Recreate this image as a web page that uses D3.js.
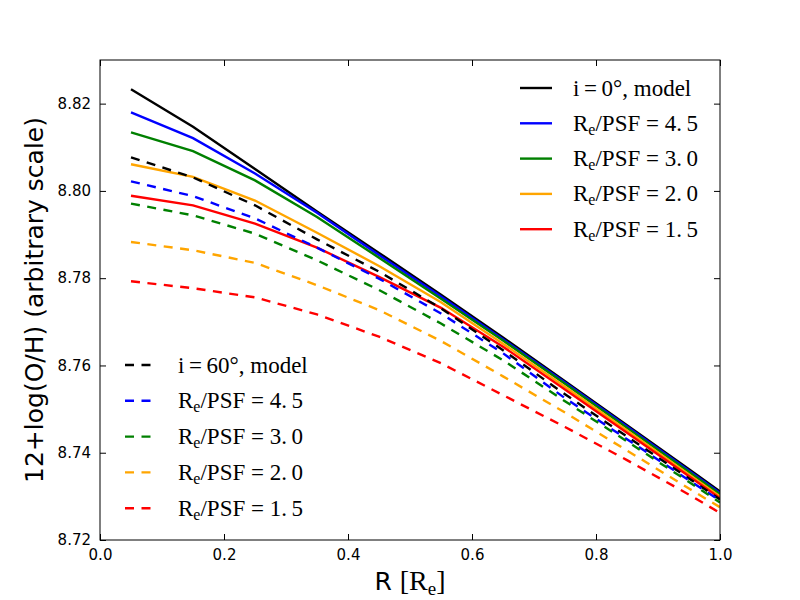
<!DOCTYPE html>
<html>
<head>
<meta charset="utf-8">
<script src="https://cdn.jsdelivr.net/npm/d3@7"></script>
<style>
  body { margin: 0; background: #fff; }
  .tick text { font-family: "DejaVu Sans", sans-serif; font-size: 15px; fill: #000; }
  .tick line { stroke: #000; stroke-width: 1; }
  .math { font-family: "Liberation Serif", "DejaVu Serif", serif; }
</style>
</head>
<body>
<svg id="chart" width="800" height="600"></svg>
<script>
// radius grid in units of R_e
const radius = [0.05, 0.15, 0.25, 0.35, 0.45, 0.55, 0.65, 0.75, 0.85, 0.95, 1.0];

// face-on (i = 0 deg), solid lines
const faceModel = [8.8233, 8.8147, 8.8050, 8.7953, 8.7858, 8.7762, 8.7664, 8.7564, 8.7463, 8.7362, 8.7311];
const facePsf45 = [8.8180, 8.8121, 8.8040, 8.7950, 8.7853, 8.7758, 8.7660, 8.7561, 8.7460, 8.7359, 8.7308];
const facePsf30 = [8.8134, 8.8091, 8.8024, 8.7940, 8.7847, 8.7753, 8.7657, 8.7558, 8.7457, 8.7356, 8.7305];
const facePsf20 = [8.8061, 8.8032, 8.7978, 8.7904, 8.7828, 8.7745, 8.7650, 8.7551, 8.7451, 8.7350, 8.7300];
const facePsf15 = [8.7989, 8.7967, 8.7925, 8.7870, 8.7803, 8.7732, 8.7643, 8.7545, 8.7446, 8.7346, 8.7296];

// inclined (i = 60 deg), dashed lines
const inclModel = [8.8077, 8.8031, 8.7967, 8.7889, 8.7815, 8.7731, 8.7635, 8.7534, 8.7437, 8.7341, 8.7293];
const inclPsf45 = [8.8022, 8.7988, 8.7937, 8.7870, 8.7799, 8.7719, 8.7628, 8.7525, 8.7431, 8.7337, 8.7290];
const inclPsf30 = [8.7971, 8.7944, 8.7902, 8.7841, 8.7773, 8.7696, 8.7612, 8.7518, 8.7426, 8.7333, 8.7286];
const inclPsf20 = [8.7883, 8.7864, 8.7835, 8.7784, 8.7727, 8.7656, 8.7575, 8.7492, 8.7405, 8.7318, 8.7275];
const inclPsf15 = [8.7793, 8.7777, 8.7756, 8.7717, 8.7666, 8.7605, 8.7532, 8.7459, 8.7383, 8.7304, 8.7262];

const colors = ["#000000", "#0000ff", "#008000", "#ffa500", "#ff0000"];
const psfLabels = [null, "4.5", "3.0", "2.0", "1.5"];

const xTicks = [0.0, 0.2, 0.4, 0.6, 0.8, 1.0];
const yTicks = [8.72, 8.74, 8.76, 8.78, 8.80, 8.82];

const faceSeries = [faceModel, facePsf45, facePsf30, facePsf20, facePsf15];
const inclSeries = [inclModel, inclPsf45, inclPsf30, inclPsf20, inclPsf15];

// Set up the plot area
const margin = { top: 60, right: 80, bottom: 60, left: 100 };
const width = 800 - margin.left - margin.right;
const height = 600 - margin.top - margin.bottom;

const svg = d3.select("#chart");
svg.append("rect").attr("width", 800).attr("height", 600).attr("fill", "#fff");

const g = svg.append("g")
  .attr("transform", `translate(${margin.left},${margin.top})`);

const xScale = d3.scaleLinear().domain([0, 1]).range([0, width]);
const yScale = d3.scaleLinear().domain([8.72, 8.83]).range([height, 0]);

g.append("clipPath").attr("id", "clip")
  .append("rect").attr("width", width).attr("height", height);

const line = d3.line()
  .x(d => xScale(d[0]))
  .y(d => yScale(d[1]));

const lines = g.append("g").attr("clip-path", "url(#clip)");

const dash = "9,7.5";
const lw = 2.4;

faceSeries.forEach((s, i) => {
  lines.append("path")
    .datum(radius.map((r, j) => [r, s[j]]))
    .attr("fill", "none")
    .attr("stroke", colors[i])
    .attr("stroke-width", lw)
    .attr("d", line);
});

inclSeries.forEach((s, i) => {
  lines.append("path")
    .datum(radius.map((r, j) => [r, s[j]]))
    .attr("fill", "none")
    .attr("stroke", colors[i])
    .attr("stroke-width", lw)
    .attr("stroke-dasharray", dash)
    .attr("d", line);
});

// Axes with inward ticks on all four sides
const tickLen = 6;
g.append("g")
  .attr("transform", `translate(0,${height})`)
  .call(d3.axisBottom(xScale).tickValues(xTicks).tickFormat(d3.format(".1f"))
    .tickSize(-tickLen).tickPadding(9))
  .call(a => a.select(".domain").remove());

g.append("g")
  .call(d3.axisTop(xScale).tickValues(xTicks).tickFormat("").tickSize(-tickLen))
  .call(a => a.select(".domain").remove());

g.append("g")
  .call(d3.axisLeft(yScale).tickValues(yTicks).tickFormat(d3.format(".2f"))
    .tickSize(-tickLen).tickPadding(9))
  .call(a => a.select(".domain").remove());

g.append("g")
  .attr("transform", `translate(${width},0)`)
  .call(d3.axisRight(yScale).tickValues(yTicks).tickFormat("").tickSize(-tickLen))
  .call(a => a.select(".domain").remove());

g.append("rect")
  .attr("width", width).attr("height", height)
  .attr("fill", "none").attr("stroke", "#000").attr("stroke-width", 1);

// Axis labels
svg.append("text")
  .attr("transform", "translate(43,300) rotate(-90)")
  .attr("text-anchor", "middle")
  .style("font-family", "DejaVu Sans, sans-serif")
  .style("font-size", "25px")
  .text("12+log(O/H) (arbitrary scale)");

const xl = svg.append("text")
  .attr("x", 410).attr("y", 590)
  .attr("text-anchor", "middle")
  .style("font-size", "25px");
xl.append("tspan").style("font-family", "DejaVu Sans, sans-serif").text("R ");
xl.append("tspan").attr("class", "math").style("font-size", "28px").text("[R");
xl.append("tspan").attr("class", "math").attr("dy", 5).style("font-size", "19px").text("e");
xl.append("tspan").attr("class", "math").attr("dy", -5).style("font-size", "28px").text("]");

// Legend helpers
function legendLabel(sel, i, deg) {
  const t = sel.append("text").attr("class", "math").style("font-size", "23px");
  if (i === 0) {
    t.text(`i\u2009=\u2009${deg}\u00b0, model`);
  } else {
    t.append("tspan").text("R");
    t.append("tspan").attr("dy", 4).style("font-size", "16px").text("e");
    t.append("tspan").attr("dy", -4).text(`/PSF = ${psfLabels[i].replace(".", ".\u2009")}`);
  }
  return t;
}

function drawLegend(x0, y0, step, dashed, deg) {
  colors.forEach((c, i) => {
    const y = y0 + i * step;
    svg.append("line")
      .attr("x1", x0).attr("x2", x0 + 32)
      .attr("y1", y).attr("y2", y)
      .attr("stroke", c).attr("stroke-width", lw)
      .attr("stroke-dasharray", dashed ? dash : null);
    legendLabel(svg, i, deg).attr("x", x0 + 53).attr("y", y + 7.5);
  });
}

drawLegend(520, 88, 35.3, false, 0);
drawLegend(125, 365, 35.8, true, 60);
</script>
</body>
</html>
